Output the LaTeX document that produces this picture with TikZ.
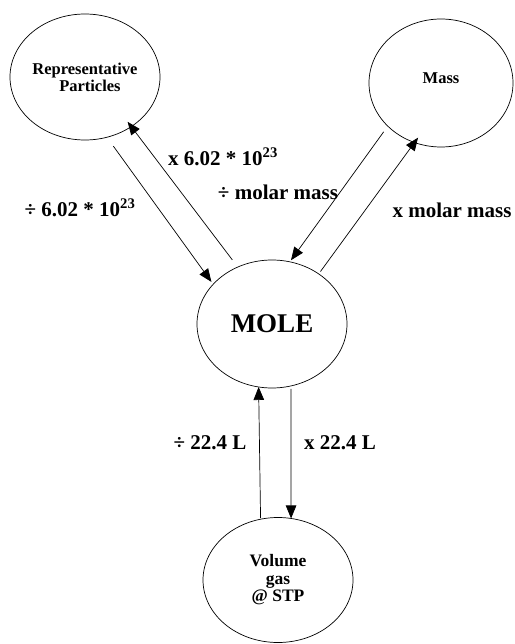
\documentclass[tikz,border=0pt]{standalone}
\usepackage{fontspec}
\setmainfont{Liberation Serif}
\usetikzlibrary{arrows.meta,shapes.geometric}
\begin{document}
\begin{tikzpicture}[x=1pt,y=-1pt,
  oval/.style={draw, ellipse, line width=0.7pt, inner sep=0pt, outer sep=0pt, align=center,
    font=\fontsize{16.5}{17}\selectfont\bfseries},
  arr/.style={-{Triangle[length=13pt,width=10.5pt]}, line width=0.7pt},
  lbl/.style={inner sep=0pt, font=\fontsize{21}{24}\selectfont\bfseries}]
\useasboundingbox (0,0) rectangle (514,644);
\node[oval, minimum width=150pt, minimum height=126pt] (rep) at (85,77) {Representative\\\hspace*{0.6em}Particles};
\node[oval, minimum width=144pt, minimum height=128pt] (mass) at (441,83) {\raisebox{9pt}{Mass}};
\node[oval, minimum width=150pt, minimum height=128pt, font=\fontsize{27}{30}\selectfont\bfseries] (mole) at (272,324) {MOLE};
\node[oval, minimum width=150pt, minimum height=125pt, font=\fontsize{17.5}{17.5}\selectfont\bfseries] (vol) at (278,580) {Volume\\gas\\@ STP};

\draw[arr, shorten <=11pt, shorten >=3pt] (rep.-70.6) -- (mole.146.5);
\draw[arr, shorten <=9pt, shorten >=-6pt] (mole.121) -- (rep.-47.2);
\draw[arr, shorten <=7pt, shorten >=2pt] (mass.219.6) -- (mole.74.3);
\draw[arr, shorten <=3pt, shorten >=-6pt] (mole.47.8) -- (mass.246.7);
\draw[arr, shorten <=1pt] (vol.106.8) -- (mole.258);
\draw[arr, shorten <=3pt] (mole.-73.7) -- (vol.78.3);

\node[lbl] (l1) at (223,157) {x 6.02 * 10\textsuperscript{23}};
\node[lbl] (l2) at (80,208) {÷ 6.02 * 10\textsuperscript{23}};
\node[lbl] (l3) at (278,192) {÷ molar mass};
\node[lbl] (l4) at (452,210) {x molar mass};
\node[lbl] (l5) at (210,443) {÷ 22.4 L};
\node[lbl] (l6) at (340,443) {x 22.4 L};
\end{tikzpicture}
\end{document}
